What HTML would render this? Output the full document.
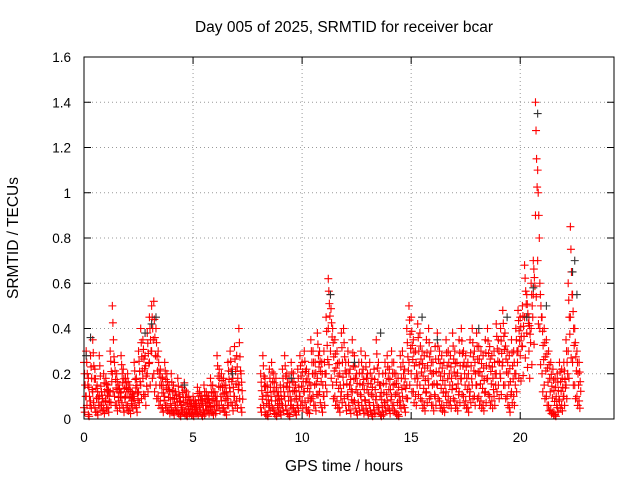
<!DOCTYPE html>
<html><head><meta charset="utf-8"><style>
body{margin:0;background:#fff}
svg{display:block;font-family:"Liberation Sans",sans-serif}
</style></head><body>
<svg id="chart" width="640" height="480">
<text x="344" y="32" text-anchor="middle" font-size="15.5">Day 005 of 2025, SRMTID for receiver bcar</text>
<text x="344" y="471" text-anchor="middle" font-size="15.5">GPS time / hours</text>
<text x="18" y="238" text-anchor="middle" font-size="15.5" transform="rotate(-90 18 238)">SRMTID / TECUs</text>
<g id="grid"></g>
<g id="ticks"></g>
<g id="marksA"></g>
<g id="marksK"></g>
<rect x="84" y="57" width="530" height="362" fill="none" stroke="#000"/>
</svg>
<script>
const xTicks=[0,5,10,15,20];
const yTicks=[0,0.2,0.4,0.6,0.8,1,1.2,1.4,1.6];
const yTickLabels=["0","0.2","0.4","0.6","0.8","1","1.2","1.4","1.6"];
const startHour=0, stepHour=0.1;
const upperVals=[
.25,.30,.18,.28,.35,.22,.15,.28,.12,.20,
.18,.15,.30,.50,.25,.20,.15,.28,.22,.18,
.20,.15,.12,.25,.18,.30,.40,.35,.28,.38,
.45,.50,.52,.40,.30,.22,.18,.25,.20,.15,
.20,.15,.12,.18,.10,.14,.16,.12,.10,.08,
.10,.08,.14,.12,.10,.15,.12,.10,.18,.15,
.12,.28,.22,.20,.18,.15,.25,.30,.22,.32,
.28,.40,.20,null,null,null,null,null,null,null,
null,.20,.28,.18,.15,.22,.25,.20,.18,.12,
.15,.22,.28,.20,.18,.25,.20,.15,.22,.28,
.25,.30,.22,.20,.35,.30,.25,.38,.30,.25,
.30,.45,.62,.55,.40,.35,.30,.25,.38,.40,
.25,.30,.22,.35,.28,.20,.25,.30,.22,.28,
.20,.25,.18,.22,.35,.25,.15,.20,.25,.28,
.22,.30,.25,.20,.18,.28,.30,.22,.40,.50,
.45,.35,.30,.42,.38,.30,.28,.35,.40,.30,
.25,.32,.38,.30,.28,.25,.35,.30,.28,.38,
.30,.25,.35,.40,.30,.28,.25,.35,.40,.30,
.38,.32,.30,.28,.35,.40,.32,.28,.30,.42,
.35,.40,.48,.38,.30,.28,.35,.30,.40,.48,
.45,.50,.68,.55,.45,.60,.70,1.40,1.10,.60,
.45,.40,.35,.30,.25,.22,.18,.20,.25,.22,
.25,.35,.60,.85,.55,.40,.30,.25,null,null];
const lowerVals=[
.05,.10,.02,.08,.12,.05,.03,.10,.06,.04,
.08,.05,.12,.20,.10,.06,.08,.12,.05,.10,
.06,.04,.08,.10,.05,.12,.15,.18,.10,.20,
.25,.30,.20,.15,.10,.08,.05,.10,.06,.04,
.05,.03,.06,.04,.02,.05,.03,.02,.04,.03,
.02,.04,.03,.05,.02,.03,.06,.04,.05,.03,
.04,.10,.06,.08,.05,.03,.10,.12,.06,.10,
.08,.15,.05,null,null,null,null,null,null,null,
null,.05,.10,.03,.02,.06,.08,.04,.02,.05,
.03,.06,.10,.04,.02,.08,.05,.03,.06,.10,
.08,.12,.05,.04,.15,.10,.06,.18,.12,.05,
.10,.20,.40,.30,.15,.10,.08,.05,.12,.15,
.06,.10,.04,.12,.08,.03,.06,.10,.04,.08,
.03,.06,.02,.04,.10,.05,.02,.03,.06,.08,
.04,.10,.06,.03,.02,.08,.10,.05,.15,.25,
.20,.12,.10,.18,.15,.08,.06,.12,.15,.10,
.06,.10,.15,.08,.06,.05,.12,.10,.08,.15,
.08,.06,.12,.18,.10,.08,.05,.12,.15,.10,
.15,.10,.08,.06,.12,.18,.10,.08,.10,.20,
.15,.18,.25,.15,.10,.05,.12,.10,.20,.30,
.28,.32,.45,.38,.30,.40,.55,.90,.70,.40,
.20,.15,.10,.06,.04,.03,.02,.05,.08,.06,
.10,.15,.30,.45,.25,.15,.10,.08,null,null];
const blackTimes=[0.1,0.3,2.8,3.1,3.3,4.6,6.8,9.5,11.3,12.4,13.6,15.5,16.2,18.1,19.4,20.3,20.6,20.8,21.2,22.4,22.5,22.6];
const blackVals=[0.28,0.36,0.38,0.42,0.45,0.15,0.20,0.18,0.55,0.25,0.38,0.45,0.35,0.40,0.45,0.45,0.58,1.35,0.50,0.65,0.70,0.55];
const X=h=>84+h*(530/24.3);
const Y=v=>419-v*(362/1.6);
const NS="http://www.w3.org/2000/svg";
const grid=document.getElementById('grid'), ticks=document.getElementById('ticks');
function line(p,x1,y1,x2,y2,st,dash){const l=document.createElementNS(NS,'line');l.setAttribute('x1',x1);l.setAttribute('y1',y1);l.setAttribute('x2',x2);l.setAttribute('y2',y2);l.setAttribute('stroke',st);if(dash)l.setAttribute('stroke-dasharray',dash);p.appendChild(l);return l;}
function text(p,x,y,s,anc){const t=document.createElementNS(NS,'text');t.setAttribute('x',x);t.setAttribute('y',y);t.setAttribute('font-size','13.5');t.setAttribute('text-anchor',anc);t.textContent=s;p.appendChild(t);return t;}
xTicks.forEach(h=>{const x=X(h);
 if(h>0){const g=line(grid,x,57,x,419,'#999','1,3');
 
 }
 line(ticks,x,419,x,412,'#000');line(ticks,x,57,x,64,'#000');
 const t=text(ticks,x,442,String(h),'middle');
 
 });
yTicks.forEach((v,i)=>{const y=Y(v);
 if(v>0&&v<1.6){const g=line(grid,84,y,614,y,'#999','1,3');
 
 }
 line(ticks,84,y,91,y,'#000');line(ticks,614,y,607,y,'#000');
 const t=text(ticks,71,y+5,yTickLabels[i],'end');
 
 });
function plus(g,x,y,c){const p=document.createElementNS(NS,'path');p.setAttribute('d',`M${x-4} ${y}h8M${x} ${y-4}v8`);p.setAttribute('stroke',c);p.setAttribute('stroke-width','1.1');
 
 
 g.appendChild(p);}
const gA=document.getElementById('marksA'), gK=document.getElementById('marksK');
[upperVals,lowerVals].forEach(arr=>arr.forEach((v,i)=>{if(v===null)return;plus(gA,X(startHour+i*stepHour),Y(v),'#f00');}));
upperVals.forEach((v,i)=>{const w=lowerVals[i];if(v===null||w===null)return;
 plus(gA,X(startHour+(i+0.5)*stepHour),Y((v+w)/2),'#f00');
 plus(gA,X(startHour+(i+0.25)*stepHour),Y(w+(v-w)*0.75),'#f00');
 plus(gA,X(startHour+(i+0.75)*stepHour),Y(w+(v-w)*0.25),'#f00');
 plus(gA,X(startHour+(i+0.35)*stepHour),Y(w*0.6),'#f00');});
blackTimes.forEach((t,i)=>plus(gK,X(t),Y(blackVals[i]),'#333'));
</script>
</body></html>
